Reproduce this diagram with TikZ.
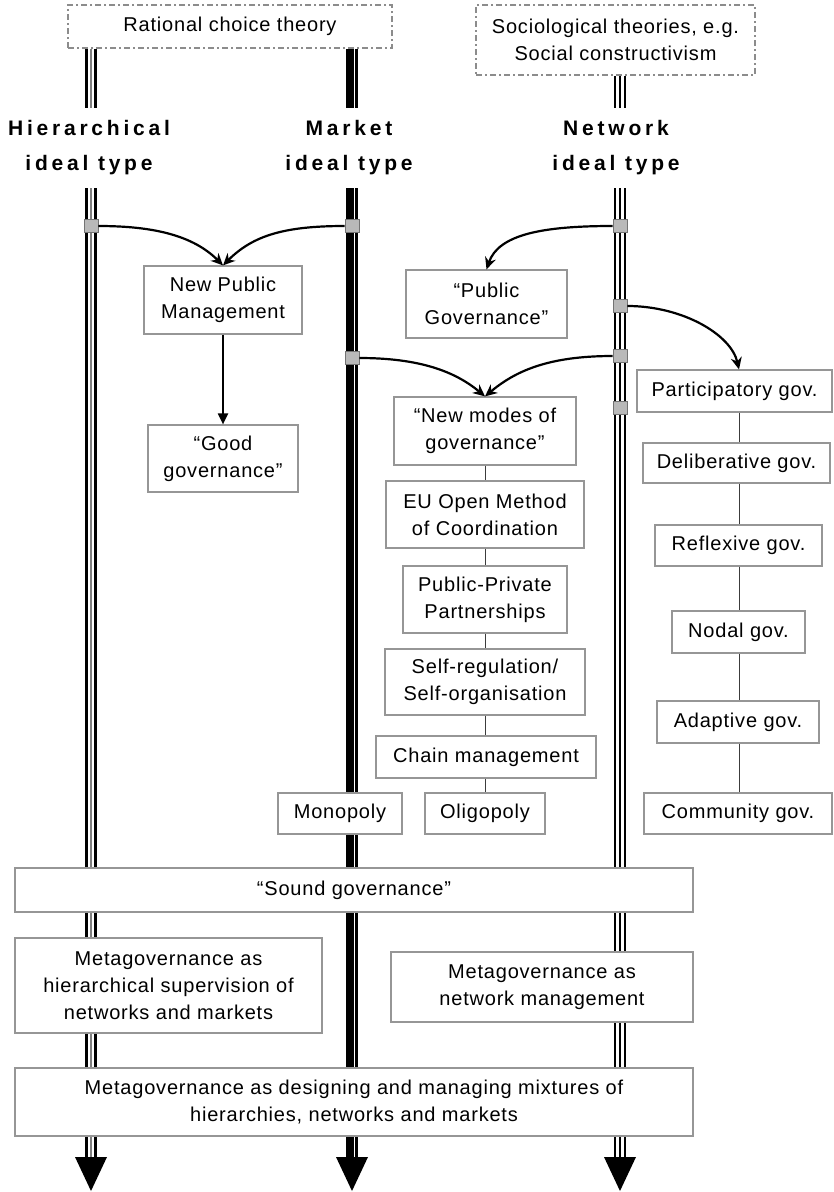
\documentclass[tikz,border=0pt]{standalone}
\usepackage{fontspec}
\setmainfont{Liberation Sans}
\newfontfamily\lsfont[LetterSpace=4]{Liberation Sans}
\newfontfamily\hdfont[LetterSpace=18]{Liberation Sans}
\usetikzlibrary{arrows.meta,calc}
\definecolor{boxgray}{RGB}{150,150,150}
\definecolor{dashgray}{RGB}{140,140,140}
\definecolor{sqfill}{RGB}{185,185,185}
\definecolor{sqdraw}{RGB}{115,115,115}
\definecolor{conngray}{RGB}{60,60,60}
\begin{document}
\begin{tikzpicture}[x=1pt,y=-1pt,
  box/.style={draw=boxgray, line width=1.2pt, fill=white, align=center, inner sep=0pt,
    font=\lsfont\fontsize{20pt}{27pt}\selectfont},
  theory/.style={box, draw=dashgray, line width=1.6pt, dash pattern=on 6pt off 3pt on 2pt off 3pt},
  hdr/.style={fill=white, align=center, inner sep=0pt, minimum height=80pt,
    font=\hdfont\bfseries\fontsize{21pt}{35pt}\selectfont},
  sq/.style={draw=sqdraw, fill=sqfill, line width=0.8pt, minimum width=14pt, minimum height=13pt, inner sep=0pt},
  hierline/.style={draw=gray, line width=1.5pt, preaction={draw=black, line width=12pt}, preaction={draw=white, line width=6.5pt}},
  markline/.style={draw=black, line width=12pt, postaction={draw=white, line width=1.6pt, transform canvas={xshift=2.6pt}}},
  netline/.style={draw=black, line width=2.5pt, preaction={draw=black, line width=12pt}, preaction={draw=white, line width=7.5pt}},
  carrow/.style={line width=2.2pt, -{Stealth[length=12pt,width=11pt]}},
  sarrow/.style={line width=2pt, -{Triangle[length=11pt,width=10pt]}},
  conn/.style={draw=conngray, line width=1pt},
  tip/.style={fill=black}
]
\useasboundingbox (0,0) rectangle (834,1192);

% theory boxes
\node[theory, minimum width=324pt, minimum height=43pt] (rct) at (230,26.5) {Rational choice theory};
\node[theory, minimum width=279pt, minimum height=70pt] (soc) at (615.5,40) {Sociological theories, e.g.\\Social constructivism};

% ideal-type lines
\coordinate (hEnd) at (91,1158);
\coordinate (mEnd) at (352,1158);
\coordinate (nEnd) at (620,1158);
\coordinate (mc) at (485,0);
\coordinate (nc) at (739,0);
\draw[hierline] (rct.south -| hEnd) -- (hEnd);
\draw[markline] (rct.south -| mEnd) -- (mEnd);
\draw[netline] (soc.south -| nEnd) -- (nEnd);
\foreach \e in {hEnd,mEnd,nEnd}{
  \fill[tip] ($(\e)+(-16,-1)$) -- ($(\e)+(16,-1)$) -- ($(\e)+(0,33)$) -- cycle;
}

% headers
\node[hdr] (hlab) at (89,148) {Hierarchical\\ideal type};
\node[hdr] (mlab) at (349,148) {Market\\ideal type};
\node[hdr] (nlab) at (616,148) {Network\\ideal type};

% squares
\node[sq] (sqH1) at (91,226) {};
\node[sq] (sqM1) at (352,226) {};
\node[sq] (sqN1) at (620,226) {};
\node[sq] (sqN2) at (620,306) {};
\node[sq] (sqM2) at (352,358) {};
\node[sq] (sqN3) at (620,356) {};
\node[sq] (sqN4) at (620,408) {};

% boxes
\node[box, minimum width=158pt, minimum height=68pt] (npm) at (223,300) {New Public\\Management};
\node[box, minimum width=150pt, minimum height=67pt] (good) at (223,458.5) {“Good\\governance”};
\node[box, minimum width=161pt, minimum height=68pt] (pg) at (486.5,304) {“Public\\Governance”};
\node[box, minimum width=182pt, minimum height=68pt] (nmg) at (485,431) {“New modes of\\governance”};
\node[box, minimum width=198pt, minimum height=67pt] (omc) at (485,514.5) {EU Open Method\\of Coordination};
\node[box, minimum width=164pt, minimum height=67pt] (ppp) at (485,599.5) {Public-Private\\Partnerships};
\node[box, minimum width=200pt, minimum height=66pt] (self) at (485,682) {Self-regulation/\\Self-organisation};
\node[box, minimum width=220pt, minimum height=42pt] (chain) at (486,757) {Chain management};
\node[box, minimum width=120pt, minimum height=41pt] (oli) at (485,813.5) {Oligopoly};
\node[box, minimum width=124pt, minimum height=41pt] (mono) at (340,813.5) {Monopoly};

\node[box, minimum width=195pt, minimum height=42pt] (part) at (734.5,391) {Participatory gov.};
\node[box, minimum width=187pt, minimum height=40pt] (delib) at (736.5,463) {Deliberative gov.};
\node[box, minimum width=167pt, minimum height=41pt] (refl) at (738.5,545.5) {Reflexive gov.};
\node[box, minimum width=133pt, minimum height=42pt] (nodal) at (738.5,632) {Nodal gov.};
\node[box, minimum width=162pt, minimum height=42pt] (adapt) at (738,722) {Adaptive gov.};
\node[box, minimum width=188pt, minimum height=41pt] (comm) at (738,813.5) {Community gov.};

\node[box, minimum width=678pt, minimum height=44pt] (sound) at (354,890) {“Sound governance”};
\node[box, minimum width=307pt, minimum height=95pt] (mgh) at (168.5,985.5) {Metagovernance as\\hierarchical supervision of\\networks and markets};
\node[box, minimum width=302pt, minimum height=70pt] (mgn) at (542,987) {Metagovernance as\\network management};
\node[box, minimum width=678pt, minimum height=68pt] (mgm) at (354,1102) {Metagovernance as designing and managing mixtures of\\hierarchies, networks and markets};

% connectors
\foreach \a/\b in {nmg/omc, omc/ppp, ppp/self, self/chain, chain/oli}{
  \draw[conn] (\a.south -| mc) -- (\b.north -| mc);
}
\foreach \a/\b in {part/delib, delib/refl, refl/nodal, nodal/adapt, adapt/comm}{
  \draw[conn] (\a.south -| nc) -- (\b.north -| nc);
}
\draw[sarrow] (npm) -- (good);

% curved arrows
\draw[carrow] (sqH1.east) .. controls +(55,0) and +(-30,-30) .. (npm.north);
\draw[carrow] (sqM1.west) .. controls +(-60,0) and +(30,-30) .. (npm.north);
\draw[carrow] (sqN1.west) .. controls +(-70,0) and +(12,-35) .. (pg.north);
\draw[carrow] (sqN2.east) .. controls +(55,0) and +(-8,-35) .. (part.north -| nc);
\draw[carrow] (sqM2.east) .. controls +(60,0) and +(-30,-25) .. (nmg.north);
\draw[carrow] (sqN3.west) .. controls +(-65,0) and +(30,-25) .. (nmg.north);
\end{tikzpicture}
\end{document}
